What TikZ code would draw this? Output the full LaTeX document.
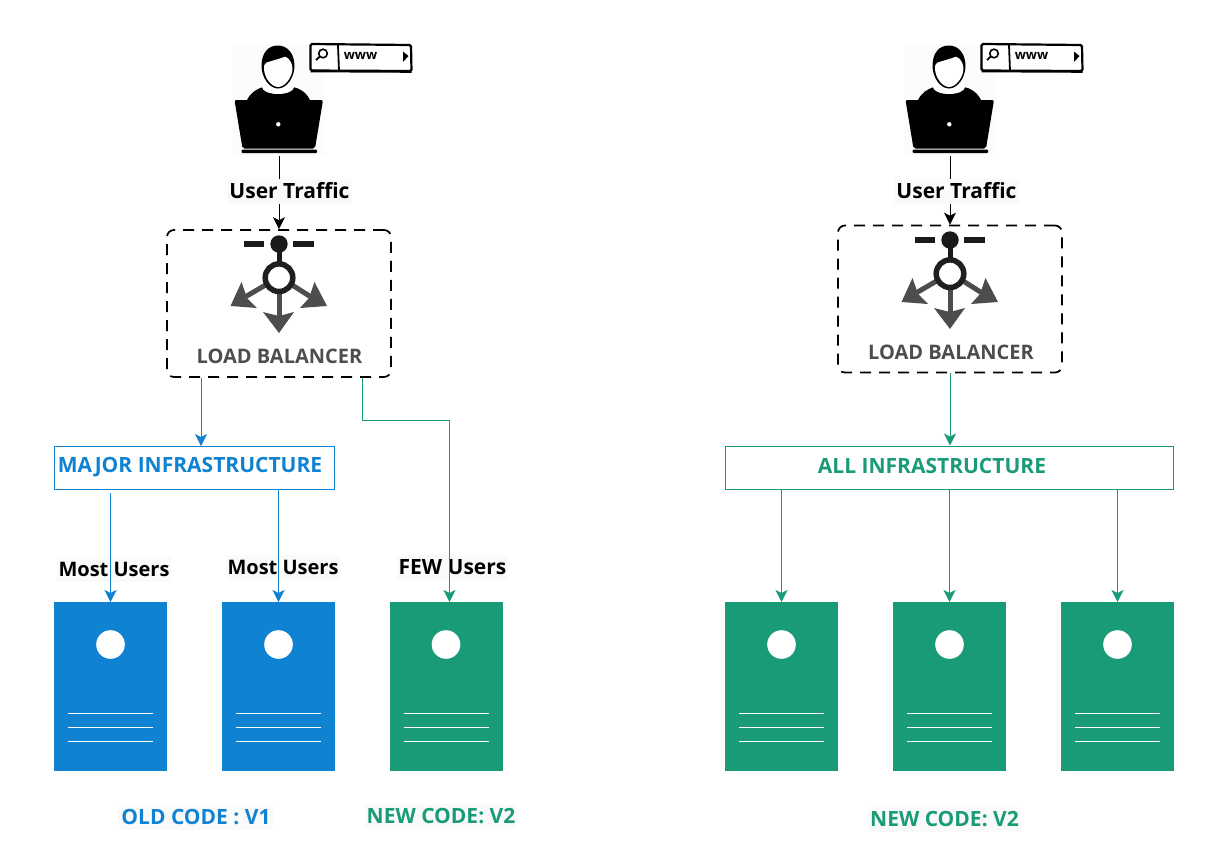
\documentclass[tikz,border=0pt]{standalone}
\usepackage{fontspec}
\setmainfont{Open Sans}
\definecolor{OldBlue}{RGB}{16,130,210}
\definecolor{NewGreen}{RGB}{26,155,119}
\definecolor{IconGray}{RGB}{77,77,77}
\definecolor{IconDark}{RGB}{26,26,26}
\definecolor{LabelBack}{RGB}{250,250,250}
\usetikzlibrary{arrows.meta,positioning,calc}
\tikzset{
  serverbox/.style={rectangle,minimum width=113pt,minimum height=169pt,inner sep=0pt,outer sep=0pt},
  lbbox/.style={rectangle,draw=black,line width=1.7pt,rounded corners=7pt,dash pattern=on 11pt off 8pt,minimum width=224pt,minimum height=147pt,inner sep=0pt},
  infrabox/.style={rectangle,draw,line width=0.9pt,fill=white,minimum height=43pt,inner sep=0pt},
  plaintag/.style={font=\fontsize{21}{23}\selectfont\bfseries,text height=15pt,text depth=0pt,inner xsep=2pt,inner ysep=5pt},
  tag/.style={plaintag,fill=LabelBack},
  flow/.style={-{Stealth[length=12pt,width=12pt,inset=3pt]},line width=1pt},
  usericon/.pic={
    \fill[black!1] (-46,-55) rectangle (46,55);
    % shoulders and collar
    \fill[black] (-32,0) .. controls (-28,-8) and (-22,-11) .. (-16,-13) -- (14,-13) .. controls (20,-12) and (27,-8) .. (31,0) -- cycle;
    \fill[white] (-1,-13) ellipse (16pt and 7pt);
    % head
    \fill[black] (-17.5,-34) .. controls (-17.5,-47) and (-11,-54.5) .. (-1,-54.5) .. controls (8,-54.5) and (15.5,-47) .. (15.5,-34) .. controls (15.5,-23) and (8,-11.5) .. (-1,-11.5) .. controls (-10,-11.5) and (-17.5,-23) .. (-17.5,-34) -- cycle;
    \fill[white] (-15,-31.7) .. controls (-15,-35) and (-14,-37) .. (-12.3,-37.5) .. controls (-8,-39) and (0,-41) .. (6,-43.3) .. controls (10,-42) and (13,-38) .. (13.5,-31.7) .. controls (13.5,-23) and (6,-13) .. (-1,-13) .. controls (-8,-13) and (-15,-23) .. (-15,-31.7) -- cycle;
    % laptop
    \fill[black,rounded corners=2pt] (-44.5,0) -- (44,0) -- (36,48.5) -- (-36.5,48.5) -- cycle;
    \fill[black,rounded corners=1pt] (-37.5,49.5) rectangle (38,53);
    \fill[white] (-0.7,24.3) circle(2.2pt);
    \coordinate (-foot) at (0,56);
    % search bar
    \draw[black,fill=white,line width=2.2pt,rounded corners=1.5pt] (31.5,-56) -- (132,-55) -- (132.5,-29) -- (31.5,-29.5) -- cycle;
    \draw[black,line width=1.6pt] (31.5,-28.5) -- (132.5,-28);
    \draw[black,line width=1.8pt] (59,-55) -- (60,-29);
    \draw[black,line width=1.6pt] (44,-46.5) circle(4.3pt);
    \draw[black,line width=1.8pt] (40.8,-43.5) -- (37,-40);
    \node[inner sep=0pt,font=\fontsize{13}{14}\selectfont\bfseries] (-www) at (81.5,-44) {www};
    \fill[black] (124,-48.5) -- (129.5,-44) -- (124,-38) -- cycle;
  },
  lbicon/.pic={
    % router mark
    \fill[IconDark] (-35,-3) rectangle (-15,3);
    \fill[IconDark] (14,-3) rectangle (35,3);
    \draw[IconDark,line width=5pt] (0,0) -- (0,20);
    \fill[IconDark] (0,0) circle(8.7pt);
    \draw[IconGray,line width=5pt] (0,45) -- (0,72);
    \draw[IconGray,line width=5pt] (-10,39) -- (-34,53);
    \draw[IconGray,line width=5pt] (10,39) -- (32,53);
    \fill[IconGray] (-16,68) -- (0,72) -- (15,68) -- (0,89) -- cycle;
    \fill[IconGray] (-37.5,38) -- (-32,54) -- (-22,64) -- (-48.5,62) -- cycle;
    \fill[IconGray] (35.5,38) -- (30,54) -- (21,64) -- (48,62) -- cycle;
    \draw[IconDark!90!IconGray,fill=white,line width=5.5pt] (0,33.7) circle(13.8pt);
  }
}
\begin{document}
\begin{tikzpicture}[x=1pt,y=-1pt]
\useasboundingbox (0,0) rectangle (1227,855);
% users
\pic (userA) at (279,100) {usericon};
\pic (userB) at (950,100) {usericon};
% load balancers
\node[lbbox] (lbA) at (279,303.5) {};
\node[lbbox] (lbB) at (950,299) {};
\pic (iconA) at (279,244) {lbicon};
\pic (iconB) at (950,240) {lbicon};
\node[plaintag,text=IconGray] (lbtextA) at (279.5,356) {\fontsize{20}{22}\selectfont LOAD BALANCER};
\node[plaintag,text=IconGray] (lbtextB) at (951,352) {\fontsize{20}{22}\selectfont LOAD BALANCER};
% user traffic
\draw[flow] (userA-foot) -- (lbA.north);
\draw[flow] (userB-foot) -- (lbB.north);
\node[tag] (trafficA) at (289.5,191) {User Traffic};
\node[tag] (trafficB) at (956.5,191) {User Traffic};
% servers
\foreach \name/\col/\x in {srvA/OldBlue/110.5,srvB/OldBlue/278.5,srvC/NewGreen/446,srvD/NewGreen/781.5,srvE/NewGreen/949.5,srvF/NewGreen/1117.5} {
  \node[serverbox,fill=\col] (\name) at (\x,686.5) {};
  \fill[white] ($(\name.center)+(0,-42)$) circle(14.3pt);
  \foreach \dy in {26.5,40.5,54.5}
    \draw[white,line width=0.7pt] ($(\name.center)+(-42.5,\dy)$) -- ($(\name.center)+(42.5,\dy)$);
}
% infrastructure boxes
\node[infrabox,draw=OldBlue,minimum width=280pt] (major) at (194,468) {};
\node[infrabox,draw=NewGreen,minimum width=448pt] (allinfra) at (949,467.5) {};
\node[plaintag,text=OldBlue] (majortext) at (190,465) {MAJOR INFRASTRUCTURE};
\node[plaintag,text=NewGreen] (alltext) at (932,466) {ALL INFRASTRUCTURE};
% traffic labels
\node[tag] (mostA) at (114,569) {\fontsize{20}{22}\selectfont Most Users};
\node[tag] (mostB) at (283,567) {\fontsize{20}{22}\selectfont Most Users};
\node[tag] (fewC) at (452.5,567) {FEW Users};
% connectors
\draw[flow,OldBlue] ([xshift=-78pt]lbA.south) -- ([xshift=-78pt]lbA.south |- major.north);
\draw[flow,NewGreen] ([xshift=83pt]lbA.south) -- ++(0,43) -| ([xshift=3.5pt]srvC.north);
\draw[flow,OldBlue] ([yshift=-3pt]major.south -| srvA.north) -- (srvA.north);
\draw[flow,OldBlue] (major.south -| srvB.north) -- (srvB.north);
\draw[flow,NewGreen] (lbB.south) -- (lbB.south |- allinfra.north);
\draw[flow,NewGreen] (allinfra.south -| srvD.north) -- (srvD.north);
\draw[flow,NewGreen] (allinfra.south -| srvE.north) -- (srvE.north);
\draw[flow,NewGreen] (allinfra.south -| srvF.north) -- (srvF.north);
% code versions
\node[tag,text=OldBlue] (oldcode) at (196,817) {OLD CODE : V1};
\node[tag,text=NewGreen] (newcodeA) at (441,816) {NEW CODE: V2};
\node[tag,text=NewGreen] (newcodeB) at (944.5,819) {NEW CODE: V2};
\end{tikzpicture}
\end{document}
